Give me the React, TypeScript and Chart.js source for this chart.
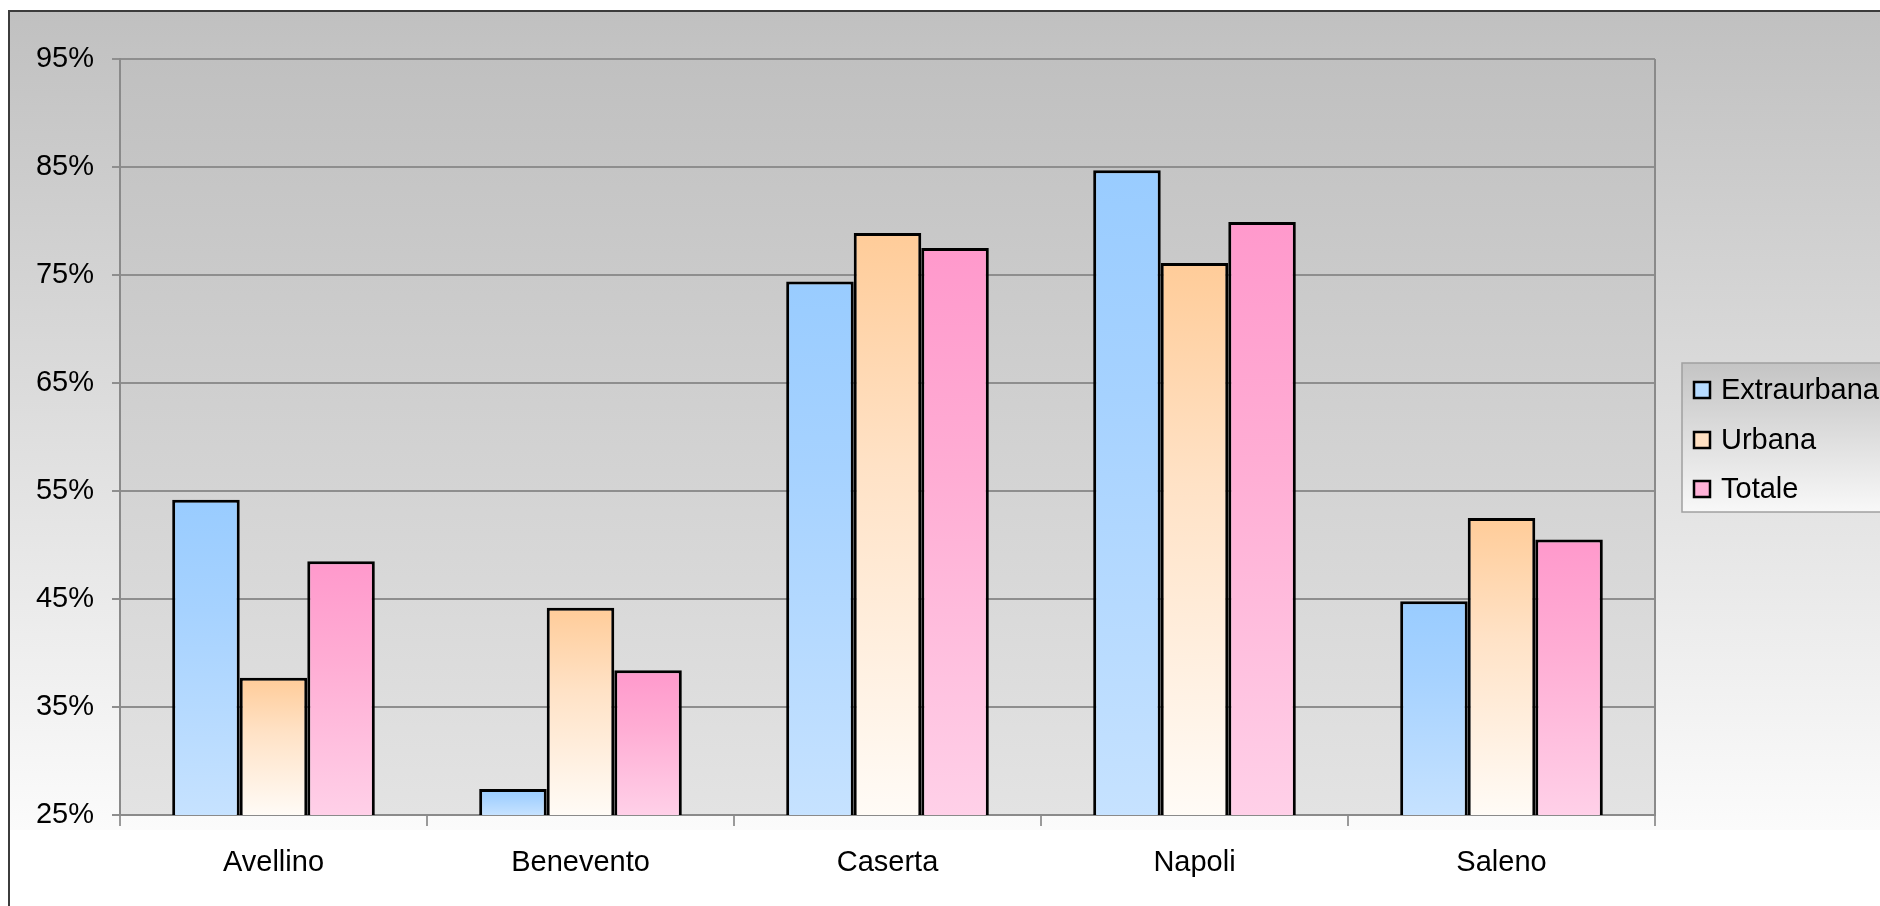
import React, { useEffect, useRef } from "react";
import { Chart, registerables } from "chart.js";

Chart.register(...registerables);

const categories = ["Avellino", "Benevento", "Caserta", "Napoli", "Saleno"];
const extraurbana = [54.2, 27.4, 74.4, 84.7, 44.8];
const urbana = [37.7, 44.2, 78.9, 76.1, 52.5];
const totale = [48.5, 38.4, 77.5, 79.9, 50.5];
const seriesLabels = ["Extraurbana", "Urbana", "Totale"];
const yTicks = [25, 35, 45, 55, 65, 75, 85, 95];

const W = 1880;
const H = 906;
const FONT = "'Liberation Sans', Arial, sans-serif";

const gradStops: Record<string, [number, string][]> = {
  blue: [[0, "#99ccff"], [0.35, "#a6d2ff"], [1, "#c6e2ff"]],
  orange: [[0, "#ffcc99"], [0.4, "#ffe2c6"], [1, "#fffbf6"]],
  pink: [[0, "#ff99cc"], [0.4, "#ffadd4"], [1, "#ffd0e8"]],
};
const legendFill = ["#b6dbff", "#ffe0c2", "#ffb2d8"];

function barGradient(key: string) {
  return (ctx: any) => {
    const chart = ctx.chart;
    const y = chart.scales?.y;
    if (!y || ctx.type !== "data" || ctx.raw == null) return gradStops[key][0][1];
    const top = y.getPixelForValue(ctx.raw);
    const bottom = y.getPixelForValue(yTicks[0]);
    if (!isFinite(top) || !isFinite(bottom) || bottom - top < 1) return gradStops[key][0][1];
    const g = chart.ctx.createLinearGradient(0, top, 0, bottom);
    gradStops[key].forEach(([o, c]) => g.addColorStop(o, c));
    return g;
  };
}

const backgroundPlugin = {
  id: "bgPlugin",
  beforeDraw(chart: any) {
    const c = chart.ctx;
    const { left, right, top, bottom } = chart.chartArea;
    c.save();
    c.fillStyle = "#ffffff";
    c.fillRect(0, 0, W, H);
    const og = c.createLinearGradient(0, 10, 0, 830);
    og.addColorStop(0, "#c0c0c0");
    og.addColorStop(1, "#fbfbfb");
    c.fillStyle = og;
    c.fillRect(8, 10, W, 820);
    const pg = c.createLinearGradient(0, top, 0, bottom);
    pg.addColorStop(0, "#c0c0c0");
    pg.addColorStop(1, "#e3e3e3");
    c.fillStyle = pg;
    c.fillRect(left, top, right - left, bottom - top);
    c.strokeStyle = "#3c3c3c";
    c.lineWidth = 2;
    c.strokeRect(9, 11, W + 20, H + 20);
    c.restore();
  },
  beforeDatasetsDraw(chart: any) {
    const c = chart.ctx;
    const { right, top, bottom } = chart.chartArea;
    c.save();
    c.strokeStyle = "#8a8a8a";
    c.lineWidth = 2;
    c.beginPath();
    c.moveTo(right, top);
    c.lineTo(right, bottom);
    c.stroke();
    c.restore();
  },
  afterDraw(chart: any) {
    const c = chart.ctx;
    c.save();
    const bx = 1682, by = 363, bh = 149;
    const lg = c.createLinearGradient(0, by, 0, by + bh);
    lg.addColorStop(0, "#c4c4c4");
    lg.addColorStop(1, "#f8f8f8");
    c.fillStyle = lg;
    c.fillRect(bx, by, W - bx + 10, bh);
    c.strokeStyle = "#a0a0a0";
    c.lineWidth = 1.5;
    c.strokeRect(bx, by, W - bx + 10, bh);
    const rows = [390, 440, 489];
    chart.data.datasets.forEach((ds: any, i: number) => {
      const cy = rows[i];
      c.fillStyle = legendFill[i];
      c.fillRect(1694, cy - 8, 16, 16);
      c.strokeStyle = "#000";
      c.lineWidth = 2.5;
      c.strokeRect(1694, cy - 8, 16, 16);
      c.fillStyle = "#000";
      c.font = `29px ${FONT}`;
      c.textBaseline = "middle";
      c.textAlign = "left";
      c.fillText(ds.label, 1721, cy + 1);
    });
    c.restore();
  },
};

export default function App() {
  const ref = useRef<HTMLCanvasElement>(null);
  useEffect(() => {
    if (!ref.current) return;
    const chart = new Chart(ref.current, {
      type: "bar",
      data: {
        labels: categories,
        datasets: [
          { label: seriesLabels[0], data: extraurbana, backgroundColor: barGradient("blue") },
          { label: seriesLabels[1], data: urbana, backgroundColor: barGradient("orange") },
          { label: seriesLabels[2], data: totale, backgroundColor: barGradient("pink") },
        ].map((d) => ({
          ...d,
          borderColor: "#000000",
          borderWidth: 3,
          borderSkipped: false,
          categoryPercentage: 0.66,
          barPercentage: 1.0,
        })),
      },
      options: {
        responsive: false,
        animation: false,
        events: [],
        layout: { padding: { top: 59, right: 225, left: 0, bottom: 0 } },
        plugins: {
          legend: { display: false },
          tooltip: { enabled: false },
          title: { display: false },
        },
        scales: {
          x: {
            type: "category",
            offset: true,
            afterFit: (s: any) => {
              s.height = 91;
            },
            grid: {
              display: true,
              drawOnChartArea: false,
              drawTicks: true,
              tickLength: 11,
              color: "#9a9a9a",
              lineWidth: 2,
              offset: true,
            },
            border: { display: true, color: "#8a8a8a", width: 2 },
            ticks: {
              color: "#000",
              font: { family: FONT, size: 29 },
              padding: 20,
              maxRotation: 0,
              autoSkip: false,
            },
          },
          y: {
            min: yTicks[0],
            max: yTicks[yTicks.length - 1],
            afterFit: (s: any) => {
              s.width = 120;
            },
            afterBuildTicks: (s: any) => {
              s.ticks = yTicks.map((v) => ({ value: v }));
            },
            grid: {
              color: "#8e8e8e",
              lineWidth: 2,
              drawTicks: true,
              tickLength: 8,
            },
            border: { display: true, color: "#8a8a8a", width: 2 },
            ticks: {
              color: "#000",
              font: { family: FONT, size: 29 },
              padding: 18,
              callback: (v: any) => `${v}%`,
            },
          },
        },
      },
      plugins: [backgroundPlugin],
    });
    return () => chart.destroy();
  }, []);
  return (
    <div style={{ position: "fixed", left: 0, top: 0, width: W, height: H, background: "#fff" }}>
      <canvas ref={ref} width={W} height={H} style={{ width: W, height: H, display: "block" }} />
    </div>
  );
}
